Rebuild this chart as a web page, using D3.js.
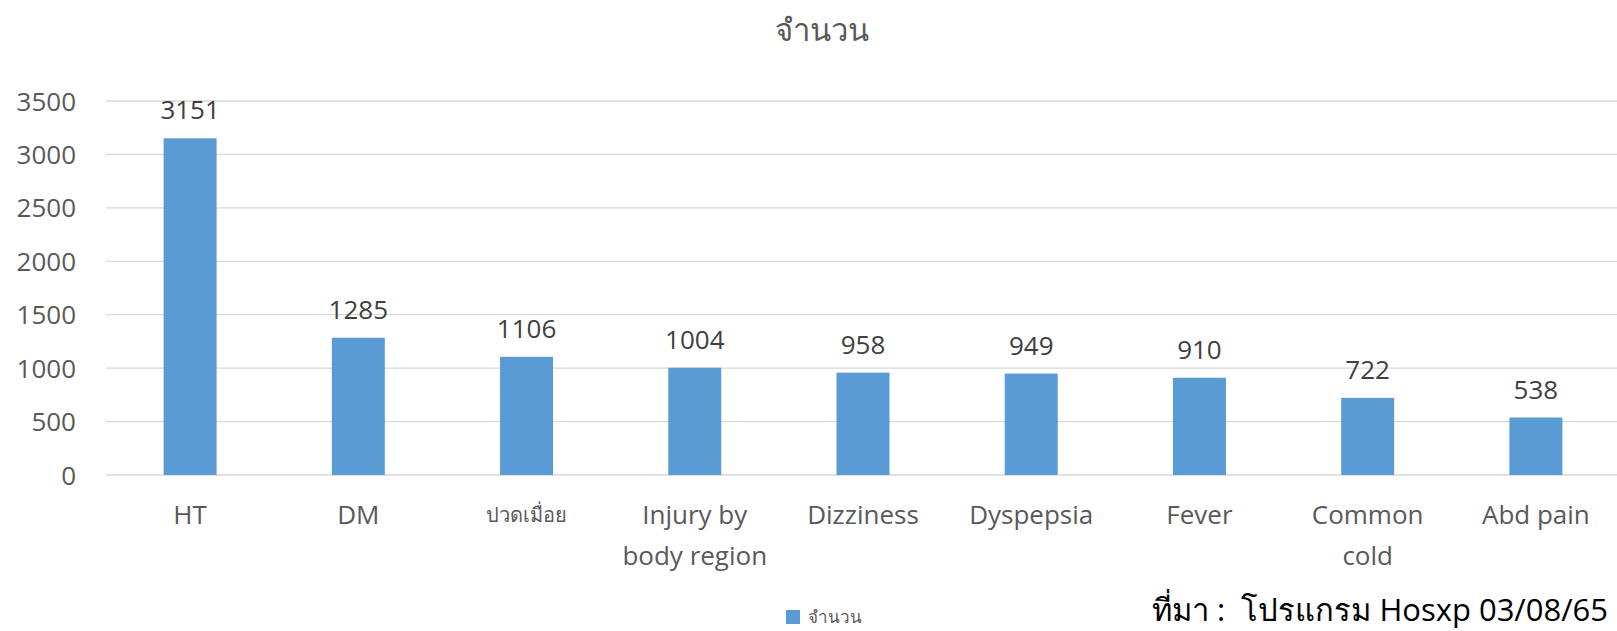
<!DOCTYPE html>
<html><head><meta charset="utf-8">
<script src="https://cdn.jsdelivr.net/npm/d3@7"></script>
<style>
html,body{margin:0;padding:0;background:#fff;overflow:hidden}
text{font-family:"Open Sans","Noto Sans","DejaVu Sans",sans-serif}
</style></head><body>
<svg id="c" width="1617" height="631"></svg>
<script>
const categories = ["HT","DM","ปวดเมื่อย","Injury by body region","Dizziness","Dyspepsia","Fever","Common cold","Abd pain"];
const values = [3151,1285,1106,1004,958,949,910,722,538];
const yTicks = [0,500,1000,1500,2000,2500,3000,3500];
const seriesName = "จำนวน";
const titleText = "จำนวน";
const sourceText = "ที่มา :\u00A0 โปรแกรม Hosxp 03/08/65";

(function(){
const svg = d3.select("#c");
const pL = 106, pR = 1620, pT = 101, pB = 475;
const x = d3.scaleBand().domain(categories).range([pL, pR]).paddingInner(0.685).paddingOuter(0.3425);
const y = d3.scaleLinear().domain([0,3500]).range([pB, pT]);

svg.append("g").selectAll("line").data(yTicks).join("line")
  .attr("x1", pL).attr("x2", 1617)
  .attr("y1", d=>y(d)).attr("y2", d=>y(d))
  .attr("stroke", "#d9d9d9").attr("stroke-width", 1.3);

const yAxis = d3.axisLeft(y).tickValues(yTicks).tickSize(0).tickPadding(0).tickFormat(d3.format("d"));
const yg = svg.append("g").attr("transform", `translate(76,0)`).call(yAxis);
yg.select(".domain").remove();
yg.selectAll("text").attr("font-size", 26).attr("fill", "#595959").attr("font-family","Open Sans").attr("dy","0.35em");

svg.append("g").selectAll("rect").data(values).join("rect")
  .attr("x", (d,i)=>x(categories[i])).attr("width", x.bandwidth())
  .attr("y", d=>y(d)).attr("height", d=>pB - y(d))
  .attr("fill", "#5b9bd5");

svg.append("g").selectAll("text").data(values).join("text")
  .attr("x", (d,i)=>x(categories[i]) + x.bandwidth()/2)
  .attr("y", d=>y(d) - 19)
  .attr("text-anchor","middle").attr("font-size", 26).attr("fill","#404040")
  .text(d=>d);

const xLines = {"Injury by body region":["Injury by","body region"],"Common cold":["Common","cold"]};
const xg = svg.append("g");
categories.forEach(c=>{
  const lines = xLines[c] || [c];
  const isThai = /[\u0E00-\u0E7F]/.test(c);
  const t = xg.append("text")
    .attr("x", x(c) + x.bandwidth()/2).attr("y", 515)
    .attr("text-anchor","middle").attr("fill","#595959")
    .attr("font-size", isThai ? 20 : 26);
  lines.forEach((l,i)=>t.append("tspan").attr("x", x(c)+x.bandwidth()/2).attr("dy", i===0 ? "0.35em" : 41).text(l));
});

svg.append("text").attr("x", 822).attr("y", 41).attr("text-anchor","middle")
  .attr("font-size", 31).attr("font-weight", 300).attr("fill","#595959").text(titleText);

svg.append("rect").attr("x", 786).attr("y", 610).attr("width", 14).attr("height", 14).attr("fill","#5b9bd5");
svg.append("text").attr("x", 808).attr("y", 623).attr("font-size", 17).attr("fill","#595959").text(seriesName);

svg.append("text").attr("x", 1608).attr("y", 621).attr("text-anchor","end").attr("font-size", 31).attr("fill","#000")
  .text(sourceText);
})();
</script>
</body></html>
